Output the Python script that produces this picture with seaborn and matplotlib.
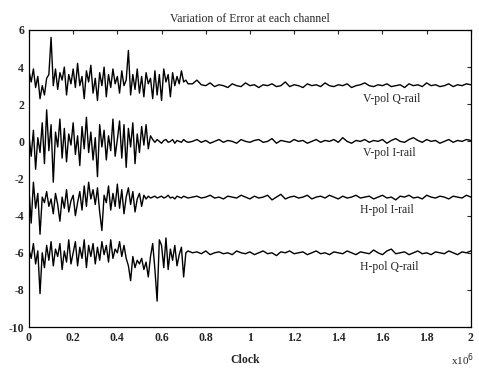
import numpy as np
import pandas as pd
import seaborn as sns
import matplotlib.pyplot as plt

# clock samples (x10^6): fine grid over the noisy start, coarser afterwards
clock = np.round(np.concatenate([np.arange(73) * 0.01, 0.74 + np.arange(64) * 0.02]), 2)

channels = ["V-pol Q-rail", "V-pol I-rail", "H-pol I-rail", "H-pol Q-rail"]

vq_noisy = [3.8, 3.2, 3.9, 2.9, 3.5, 2.3, 3.0, 2.5, 3.4, 3.6,
            5.6, 3.0, 3.9, 2.8, 3.7, 3.3, 4.0, 2.5, 3.6, 3.1,
            3.9, 2.9, 4.2, 3.0, 3.5, 2.3, 3.8, 3.2, 4.1, 2.6,
            3.4, 2.2, 3.7, 3.0, 4.0, 2.4, 3.6, 2.9, 3.9, 3.1,
            3.5, 2.6, 3.8, 3.0, 3.3, 4.9, 2.5, 3.6, 2.8, 3.9,
            2.6, 3.5, 2.4, 3.7, 3.1, 3.4, 2.3, 3.8, 2.5, 3.6,
            2.2, 3.9, 3.2, 3.6, 2.4, 3.7, 3.0, 3.5, 3.1, 3.8,
            3.2, 3.3, 3.1]
vq_calm = [3.1, 3.3, 3.05, 3.0, 3.15, 2.95, 3.05, 3.0,
           2.9, 3.1, 3.0, 2.95, 3.15, 3.0, 3.05, 2.9,
           3.05, 3.0, 3.1, 2.95, 3.0, 3.2, 2.95, 3.05,
           3.0, 2.9, 3.1, 3.0, 3.05, 2.95, 3.15, 3.0,
           2.95, 3.05, 3.0, 3.1, 2.9, 3.0, 3.05, 3.15,
           3.0, 2.95, 3.05, 3.0, 3.1, 2.95, 3.0, 3.05,
           2.9, 3.1, 3.0, 3.05, 2.95, 3.15, 3.0, 3.05,
           2.95, 3.0, 3.1, 2.95, 3.05, 3.0, 3.1, 3.05]

vi_noisy = [0.3, -0.8, 0.6, -1.5, 0.2, -0.6, 1.0, -1.2, 1.7, -0.5,
            0.9, -2.2, 0.5, -0.3, 1.2, -0.9, 0.7, -1.1, 0.4, -0.2,
            1.0, -0.7, 0.3, -1.3, 0.8, -0.4, 1.3, -0.6, 0.5, -1.0,
            0.2, -1.9, 0.9, -0.3, 0.6, -1.0, 0.3, -0.5, 1.2, -0.8,
            0.1, 1.1, -0.9, 0.9, -1.4, 0.7, -0.3, 1.0, -1.2, 0.4,
            -0.6, 0.8, -0.2, 0.9, -0.4, 0.3, 0.1, -0.05, 0.1, 0.0,
            -0.1, 0.05, 0.1, -0.05, 0.0, 0.1, -0.1, 0.05, 0.0, -0.05,
            0.1, 0.0, -0.05]
vi_calm = [0.0, 0.1, -0.05, 0.05, -0.1, 0.0, 0.1, -0.05,
           0.05, 0.0, -0.1, 0.1, 0.0, -0.05, 0.05, 0.1,
           -0.05, 0.0, 0.15, -0.1, 0.05, 0.0, -0.05, 0.1,
           0.0, 0.05, -0.1, 0.0, 0.1, -0.05, 0.05, 0.0,
           0.1, -0.05, 0.2, 0.0, -0.1, 0.05, 0.0, 0.1,
           -0.05, 0.05, 0.0, 0.1, -0.1, 0.05, 0.15, 0.0,
           -0.05, 0.1, 0.2, 0.05, -0.05, 0.1, 0.0, 0.05,
           -0.1, 0.0, 0.1, -0.05, 0.05, 0.0, 0.1, 0.05]

hi_noisy = [-2.6, -4.4, -2.2, -3.6, -2.8, -5.0, -3.0, -3.3, -2.7, -3.5,
            -3.1, -3.9, -2.8, -3.4, -4.3, -3.0, -3.6, -2.6, -3.8, -3.2,
            -2.9, -4.0, -3.3, -2.7, -3.7, -2.4, -3.5, -2.2, -3.1, -2.6,
            -3.4, -2.5, -3.8, -4.8, -2.9, -3.3, -2.4, -3.7, -2.8, -3.5,
            -2.3, -3.6, -2.6, -3.9, -3.0, -2.5, -3.4, -2.7, -3.8, -3.1,
            -2.8, -3.5, -2.9, -3.1, -2.95, -3.05, -3.0, -2.95, -3.05, -3.0,
            -2.95, -3.05, -3.0, -2.9, -3.05, -3.0, -3.1, -2.95, -3.0, -3.05,
            -2.95, -3.0, -3.05]
hi_calm = [-3.0, -2.95, -3.05, -3.0, -2.9, -3.05, -3.0, -3.1,
           -2.95, -3.0, -3.05, -2.9, -3.0, -3.1, -2.95, -3.05,
           -3.0, -2.9, -3.15, -3.0, -2.85, -3.1, -3.0, -2.95,
           -3.05, -3.0, -2.9, -3.1, -3.0, -2.95, -3.05, -2.9,
           -3.0, -3.1, -2.95, -3.05, -3.0, -2.9, -3.05, -3.0,
           -2.95, -3.1, -3.0, -2.9, -3.05, -3.0, -3.15, -2.95,
           -3.0, -2.9, -3.05, -3.0, -3.1, -2.9, -3.0, -3.05,
           -2.95, -3.0, -3.1, -2.95, -3.0, -3.05, -2.9, -3.0]

hq_noisy = [-5.8, -6.3, -5.5, -6.6, -5.9, -8.2, -6.0, -6.8, -5.6, -6.4,
            -5.4, -6.7, -5.8, -6.2, -5.5, -6.9, -5.9, -6.5, -5.3, -6.6,
            -6.0, -5.4, -6.7, -5.7, -6.3, -5.3, -6.8, -5.6, -6.2, -5.5,
            -6.6, -5.7, -6.4, -5.4, -6.1, -5.6, -6.5, -5.3, -6.3, -5.8,
            -6.0, -5.4, -6.2, -5.6, -6.3, -6.7, -7.5, -6.2, -6.8, -6.4,
            -6.6, -6.3, -6.9, -6.5, -7.3, -6.2, -5.5, -6.9, -8.6, -5.3,
            -5.6, -6.8, -5.2, -6.9, -5.8, -6.4, -5.6, -6.7, -6.1, -5.7,
            -7.3, -6.0, -5.9]
hq_calm = [-6.0, -5.95, -6.05, -5.9, -6.1, -6.0, -5.95, -6.05,
           -6.0, -6.1, -5.9, -6.0, -6.05, -5.95, -6.1, -6.0,
           -5.9, -6.05, -6.0, -6.15, -5.95, -6.0, -5.9, -6.05,
           -6.0, -5.95, -6.1, -6.0, -5.9, -6.05, -6.0, -6.1,
           -5.95, -6.0, -6.05, -5.9, -6.0, -6.1, -5.95, -6.0,
           -6.05, -5.85, -6.0, -6.1, -5.9, -5.8, -6.05, -6.0,
           -5.95, -6.1, -6.0, -5.9, -6.05, -6.0, -6.1, -5.95,
           -6.0, -6.05, -5.9, -6.0, -6.1, -5.95, -6.0, -5.9]

series = [vq_noisy + vq_calm, vi_noisy + vi_calm, hi_noisy + hi_calm, hq_noisy + hq_calm]

# label anchor (clock, error) for each channel name
label_x = [1.51, 1.51, 1.50, 1.50]
label_y = [2.3, -0.65, -3.67, -6.74]

df = pd.concat([pd.DataFrame({"Clock": clock, "Error": vals, "Channel": name})
                for name, vals in zip(channels, series)])

sns.set_style("white")
plt.rcParams["font.family"] = ["Liberation Serif", "DejaVu Serif"]
plt.rcParams["axes.unicode_minus"] = False

fig = plt.figure(figsize=(4.79, 3.70), dpi=100)
ax = fig.add_axes([0.0605, 0.116, 0.9225, 0.803])

sns.lineplot(data=df, x="Clock", y="Error", hue="Channel", units="Channel",
             estimator=None, sort=False, palette=["black"] * 4, linewidth=1.0,
             legend=False, ax=ax)

for name, lx, ly in zip(channels, label_x, label_y):
    ax.text(lx, ly, name, fontsize=8.5, va="center", ha="left")

ax.set_xlim(0, 2)
ax.set_ylim(-10, 6)
ax.set_xticks(np.arange(0, 2.01, 0.2))
ax.set_xticklabels(["0", "0.2", "0.4", "0.6", "0.8", "1", "1.2", "1.4", "1.6", "1.8", "2"])
ax.set_yticks(np.arange(-10, 7, 2))
ax.tick_params(direction="in", length=3, top=True, right=True, labelsize=8.5, width=0.8)
for lab in ax.get_xticklabels() + ax.get_yticklabels():
    lab.set_fontweight("bold")
for sp in ax.spines.values():
    sp.set_linewidth(0.9)
    sp.set_color("black")

ax.set_xlabel("")
ax.set_ylabel("")
ax.set_title("Variation of Error at each channel", fontsize=8.5, pad=6)
fig.text(0.512, 0.027, "Clock", fontsize=8.5, fontweight="bold", ha="center", va="center")
fig.text(0.965, 0.027, r"x10$^6$", fontsize=8, ha="center", va="center")

fig.savefig("out.png", dpi=100)
